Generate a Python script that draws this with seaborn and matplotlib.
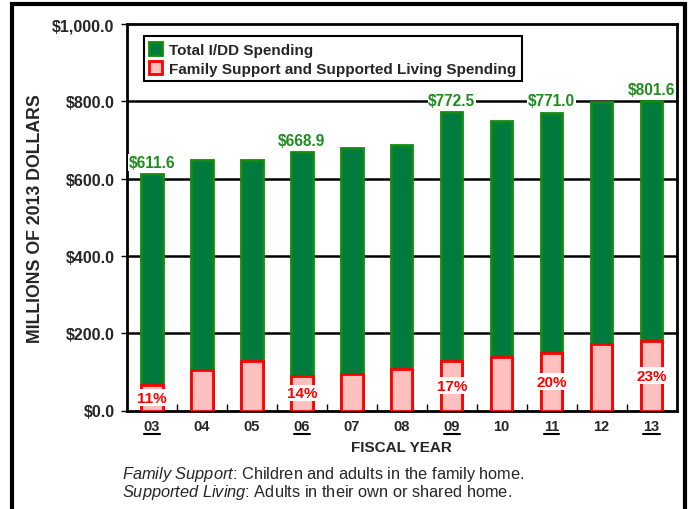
import matplotlib
matplotlib.use("Agg")
import matplotlib.pyplot as plt
import seaborn as sns
import pandas as pd
from matplotlib.patches import Rectangle
from matplotlib.lines import Line2D

years = ['03', '04', '05', '06', '07', '08', '09', '10', '11', '12', '13']
total = [611.6, 648, 648, 668.9, 678, 687, 772.5, 749, 771.0, 799, 801.6]
family = [66, 105, 127, 90, 95, 108, 128, 139, 150, 171, 181]
label_years = ['03', '06', '09', '11', '13']
pct_labels = ['11%', '14%', '17%', '20%', '23%']
yticks = [0, 200, 400, 600, 800, 1000]

sns.set_theme(style="white")
plt.rcParams['font.family'] = ['Liberation Sans', 'DejaVu Sans']
plt.rcParams['mathtext.fontset'] = 'custom'
plt.rcParams['mathtext.rm'] = 'Liberation Sans'
plt.rcParams['mathtext.bf'] = 'Liberation Sans:bold'
plt.rcParams['mathtext.it'] = 'Liberation Sans:italic'

df = pd.DataFrame({'year': years, 'total': total, 'family': family})

W, H = 689, 510
fig = plt.figure(figsize=(W / 100, H / 100), dpi=100)
ax = fig.add_axes([127/W, 1 - 411.5/H, (676.5-127)/W, (411.5-25)/H])

green = '#007A3D'
green_edge = '#138A13'
sns.barplot(data=df, x='year', y='total', color=green, edgecolor=green_edge,
            linewidth=2, width=0.43, saturation=1, ax=ax, zorder=3)
sns.barplot(data=df, x='year', y='family', color='#FFC0C0', edgecolor='#FF0000',
            linewidth=2, width=0.43, saturation=1, ax=ax, zorder=4)

ax.set_xlim(-0.5, len(years) - 0.5)
ax.set_ylim(0, 1000)
ax.set_yticks(yticks)
ax.set_yticklabels([f'${v:,.1f}' for v in yticks], fontsize=11.5, fontweight='bold')
for v in yticks[1:-1]:
    ax.axhline(v, color='black', lw=1.8, zorder=1)
for s in ax.spines.values():
    s.set_color('black')
    s.set_linewidth(2)
    s.set_visible(True)
ax.set_xticks(range(len(years)))
ax.set_xticklabels(years, fontsize=10.5, fontweight='bold')
ax.set_xticks([i + 0.5 for i in range(len(years) - 1)], minor=True)
ax.tick_params(axis='x', which='major', length=0, pad=6)
ax.tick_params(axis='x', which='minor', direction='in', length=5, width=1, color='black', bottom=True)
ax.tick_params(axis='y', which='major', direction='out', length=4, width=1, color='black', left=True, pad=5)

ax.set_xlabel('FISCAL YEAR', fontsize=11, fontweight='bold', labelpad=5)
ax.set_ylabel('MILLIONS OF 2013 DOLLARS', fontsize=12.8, fontweight='bold', labelpad=6)

for y, p in zip(label_years, pct_labels):
    i = years.index(y)
    ax.text(i, family[i] / 2, p, ha='center', va='center', color='#FF0000',
            fontsize=11, fontweight='bold', zorder=6,
            bbox=dict(facecolor='white', edgecolor='none', pad=1))
    ax.annotate(f'${total[i]:,.1f}', (i, total[i]), xytext=(0, 3), textcoords='offset points',
                ha='center', va='bottom', color='#1E8C1E', fontsize=11.2, fontweight='bold',
                zorder=6, bbox=dict(facecolor='white', edgecolor='none', pad=0.5))

handles = [ax.containers[0], ax.containers[1]]
leg = ax.legend(handles, ['Total I/DD Spending', 'Family Support and Supported Living Spending'],
                loc='upper left', bbox_to_anchor=(0.031, 0.968), fancybox=False, framealpha=1,
                edgecolor='black', prop={'weight': 'bold', 'size': 11},
                handlelength=0.8, handleheight=1.0, handletextpad=0.5, borderpad=0.35,
                labelspacing=0.25, borderaxespad=0)
leg.get_frame().set_linewidth(1.5)
leg.set_zorder(10)

fig.text(122/W, 1 - 475/H, r'$\it{Family\ Support}$: Children and adults in the family home.',
         fontsize=11.8, va='center', ha='left')
fig.text(122/W, 1 - 493/H, r'$\it{Supported\ Living}$: Adults in their own or shared home.',
         fontsize=11.8, va='center', ha='left')

fig.add_artist(Rectangle((12/W, -0.1), (685-12)/W, 1.1 - 5/H, fill=False,
                         lw=3, edgecolor='black', transform=fig.transFigure, clip_on=False))

# underline selected year tick labels
fig.canvas.draw()
renderer = fig.canvas.get_renderer()
for lab in ax.get_xticklabels():
    if lab.get_text() in label_years:
        bb = lab.get_window_extent(renderer)
        yline = (bb.y0 - 1) / H
        fig.add_artist(Line2D([bb.x0 / W, bb.x1 / W], [yline, yline], color='black',
                              lw=1.5, transform=fig.transFigure))

fig.savefig('out.png', dpi=100)
